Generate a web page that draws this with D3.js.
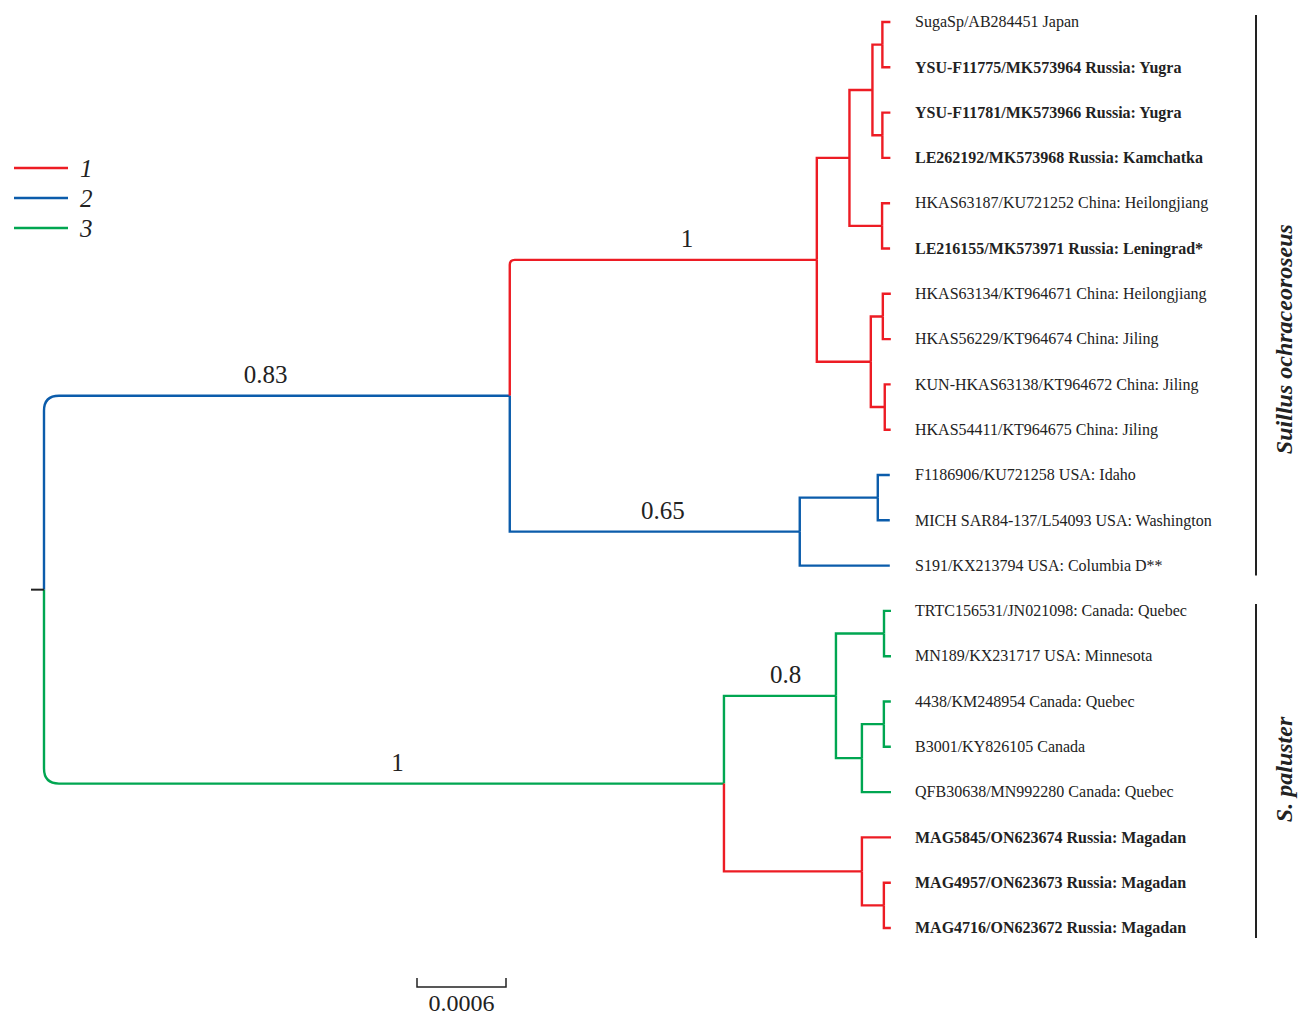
<!DOCTYPE html>
<html>
<head>
<meta charset="utf-8">
<script src="https://cdn.jsdelivr.net/npm/d3@7"></script>
<style>
  html, body { margin: 0; padding: 0; background: #fff; }
  svg { display: block; font-family: "Liberation Serif", "DejaVu Serif", serif; }
</style>
</head>
<body>
<div id="chart"></div>
<script>
// tip labels, top to bottom
const tipNames = [
  "SugaSp/AB284451 Japan",
  "YSU-F11775/MK573964 Russia: Yugra",
  "YSU-F11781/MK573966 Russia: Yugra",
  "LE262192/MK573968 Russia: Kamchatka",
  "HKAS63187/KU721252 China: Heilongjiang",
  "LE216155/MK573971 Russia: Leningrad*",
  "HKAS63134/KT964671 China: Heilongjiang",
  "HKAS56229/KT964674 China: Jiling",
  "KUN-HKAS63138/KT964672 China: Jiling",
  "HKAS54411/KT964675 China: Jiling",
  "F1186906/KU721258 USA: Idaho",
  "MICH SAR84-137/L54093 USA: Washington",
  "S191/KX213794 USA: Columbia D**",
  "TRTC156531/JN021098: Canada: Quebec",
  "MN189/KX231717 USA: Minnesota",
  "4438/KM248954 Canada: Quebec",
  "B3001/KY826105 Canada",
  "QFB30638/MN992280 Canada: Quebec",
  "MAG5845/ON623674 Russia: Magadan",
  "MAG4957/ON623673 Russia: Magadan",
  "MAG4716/ON623672 Russia: Magadan"
];
const boldTips = [1, 2, 3, 5, 18, 19, 20];

// tree edges: [node, parent, branch length, group]
const treeEdges = [
  ["root", "", 0, 0],
  ["A", "root", 0.00314, 2],
  ["R", "A", 0.00207, 1],
  ["R1", "R", 0.00022, 1],
  ["R11", "R1", 0.000155, 1],
  ["R111", "R11", 0.000067, 1],
  [tipNames[0], "R111", 0.000054, 1],
  [tipNames[1], "R111", 0.000054, 1],
  ["R112", "R11", 0.000067, 1],
  [tipNames[2], "R112", 0.000054, 1],
  [tipNames[3], "R112", 0.000054, 1],
  ["R12", "R1", 0.00022, 1],
  [tipNames[4], "R12", 0.000054, 1],
  [tipNames[5], "R12", 0.000054, 1],
  ["R2", "R", 0.000364, 1],
  ["R21", "R2", 0.000081, 1],
  [tipNames[6], "R21", 0.000054, 1],
  [tipNames[7], "R21", 0.000054, 1],
  ["R22", "R2", 0.000094, 1],
  [tipNames[8], "R22", 0.00004, 1],
  [tipNames[9], "R22", 0.00004, 1],
  ["B", "A", 0.001955, 2],
  ["B1", "B", 0.000526, 2],
  [tipNames[10], "B1", 0.000081, 2],
  [tipNames[11], "B1", 0.000081, 2],
  [tipNames[12], "B", 0.000607, 2],
  ["G", "root", 0.004584, 3],
  ["G1", "G", 0.000755, 3],
  ["G11", "G1", 0.000324, 3],
  [tipNames[13], "G11", 0.000047, 3],
  [tipNames[14], "G11", 0.000047, 3],
  ["G12", "G1", 0.000175, 3],
  ["G121", "G12", 0.000148, 3],
  [tipNames[15], "G121", 0.000047, 3],
  [tipNames[16], "G121", 0.000047, 3],
  [tipNames[17], "G12", 0.000196, 3],
  ["M", "G", 0.00093, 1],
  [tipNames[18], "M", 0.000196, 1],
  ["M1", "M", 0.000148, 1],
  [tipNames[19], "M1", 0.000047, 1],
  [tipNames[20], "M1", 0.000047, 1]
];

// posterior support on branches
const supports = [["A", "0.83"], ["R", "1"], ["B", "0.65"], ["G", "1"], ["G1", "0.8"]];

// clade bars: [label, first tip, last tip]
const clades = [
  ["Suillus ochraceoroseus", 0, 12],
  ["S. paluster", 13, 20]
];

const legendItems = ["1", "2", "3"];
const scaleBarValue = 0.0006;

// styling / placement
const groupColor = { 0: "#222", 1: "#ed1c24", 2: "#0b5cab", 3: "#00a651" };
const cornerRadius = { A: 15, G: 15, R: 5 };
const supportAlong = { A: 0.476, R: 0.577, B: 0.528, G: 0.52, G1: 0.55 };
const cladeLabelAt = [7, 16.5];

const width = 1299, height = 1017;

const svg = d3.select("#chart").append("svg")
  .attr("width", width)
  .attr("height", height);

const root = d3.stratify()
  .id(d => d[0])
  .parentId(d => d[1] || null)(treeEdges);

// cumulative distance from root
root.each(n => {
  n.dist = n.parent ? n.parent.dist + n.data[2] : 0;
});

const x = d3.scaleLinear().domain([0, scaleBarValue]).range([44, 133]);
const y = d3.scalePoint().domain(tipNames).range([22, 928]);
const yIdx = d3.scaleLinear().domain([0, tipNames.length - 1]).range([22, 928]);

root.eachAfter(n => {
  if (!n.children) n.yy = y(n.id);
  else n.yy = d3.mean([n.children[0].yy, n.children[n.children.length - 1].yy]);
  n.xx = x(n.dist);
});

const edgeG = svg.append("g").attr("fill", "none").attr("stroke-width", 2.4);

const elbow = n => {
  const p = n.parent;
  const r = cornerRadius[n.id] || 0;
  const x0 = p.xx, y0 = p.yy, x1 = n.xx, y1 = n.yy;
  if (!r) return `M${x0},${y0}V${y1}H${x1}`;
  const s = y1 < y0 ? 1 : -1;
  return `M${x0},${y0}V${y1 + s * r}Q${x0},${y1} ${x0 + r},${y1}H${x1}`;
};

edgeG.selectAll("path")
  .data(root.descendants().filter(n => n.parent))
  .join("path")
  .attr("stroke", n => groupColor[n.data[3]])
  .attr("d", elbow);

// root stub
svg.append("line")
  .attr("x1", x(0) - 13).attr("x2", x(0))
  .attr("y1", root.yy).attr("y2", root.yy)
  .attr("stroke", "#222").attr("stroke-width", 2);

// tip labels
svg.append("g")
  .selectAll("text")
  .data(root.leaves())
  .join("text")
  .attr("x", 915)
  .attr("y", n => n.yy)
  .attr("dy", "0.33em")
  .attr("font-size", 16)
  .attr("fill", "#222")
  .attr("font-weight", n => boldTips.includes(tipNames.indexOf(n.id)) ? "bold" : "normal")
  .text(n => n.id);

// support values
const byId = new Map(root.descendants().map(n => [n.id, n]));
svg.append("g")
  .selectAll("text")
  .data(supports)
  .join("text")
  .attr("x", d => {
    const n = byId.get(d[0]);
    return n.parent.xx + (n.xx - n.parent.xx) * supportAlong[d[0]];
  })
  .attr("y", d => byId.get(d[0]).yy - 13)
  .attr("text-anchor", "middle")
  .attr("font-size", 25)
  .attr("fill", "#222")
  .text(d => d[1]);

// clade bars
const cladeG = svg.append("g");
clades.forEach((c, i) => {
  const y0 = y(tipNames[c[1]]) - 7, y1 = y(tipNames[c[2]]) + 10;
  cladeG.append("line")
    .attr("x1", 1256).attr("x2", 1256)
    .attr("y1", y0).attr("y2", y1)
    .attr("stroke", "#222").attr("stroke-width", 2);
  cladeG.append("text")
    .attr("transform", `translate(1292,${yIdx(cladeLabelAt[i])}) rotate(-90)`)
    .attr("text-anchor", "middle")
    .attr("font-size", 24)
    .attr("font-weight", "bold")
    .attr("font-style", "italic")
    .attr("fill", "#222")
    .text(c[0]);
});

// legend
const legend = svg.append("g");
legendItems.forEach((t, i) => {
  const ly = 168 + i * 30;
  legend.append("line")
    .attr("x1", 14).attr("x2", 68)
    .attr("y1", ly).attr("y2", ly)
    .attr("stroke", groupColor[i + 1]).attr("stroke-width", 2.4);
  legend.append("text")
    .attr("x", 80).attr("y", ly)
    .attr("dy", "0.35em")
    .attr("font-size", 25)
    .attr("font-style", "italic")
    .attr("fill", "#222")
    .text(t);
});

// scale bar
const sb0 = 417, sb1 = sb0 + (x(scaleBarValue) - x(0)), sby = 987;
svg.append("path")
  .attr("d", `M${sb0},${sby - 9}V${sby}H${sb1}V${sby - 9}`)
  .attr("fill", "none")
  .attr("stroke", "#222")
  .attr("stroke-width", 1.5);
svg.append("text")
  .attr("x", (sb0 + sb1) / 2).attr("y", 1011)
  .attr("text-anchor", "middle")
  .attr("font-size", 24)
  .attr("fill", "#222")
  .text(String(scaleBarValue));
</script>
</body>
</html>
